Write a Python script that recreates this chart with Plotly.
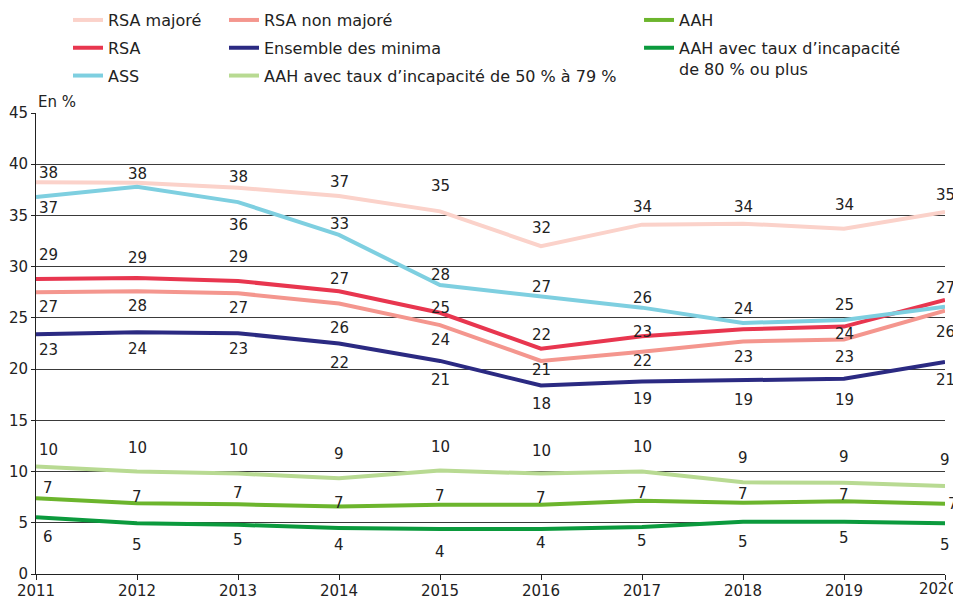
import plotly.graph_objects as go

years = [2011, 2012, 2013, 2014, 2015, 2016, 2017, 2018, 2019, 2020]
year_labels = ["2011", "2012", "2013", "2014", "2015", "2016", "2017", "2018", "2019", "2020"]

rsa_majore = [38.25, 38.2, 37.7, 36.9, 35.4, 32.0, 34.1, 34.2, 33.7, 35.35]
rsa_non_majore = [27.5, 27.6, 27.4, 26.4, 24.3, 20.8, 21.7, 22.7, 22.9, 25.7]
rsa = [28.8, 28.9, 28.6, 27.6, 25.5, 22.0, 23.2, 23.9, 24.15, 26.75]
ensemble = [23.4, 23.6, 23.5, 22.5, 20.8, 18.4, 18.8, 18.95, 19.05, 20.7]
ass = [36.8, 37.8, 36.3, 33.1, 28.2, 27.1, 26.0, 24.5, 24.8, 26.1]
aah_50_79 = [10.5, 10.0, 9.8, 9.35, 10.1, 9.8, 10.0, 8.95, 8.9, 8.6]
aah = [7.4, 6.9, 6.8, 6.6, 6.75, 6.75, 7.15, 6.95, 7.1, 6.85]
aah_80 = [5.55, 4.95, 4.8, 4.5, 4.4, 4.4, 4.6, 5.1, 5.1, 4.95]

# value labels as printed on the chart (None = not printed)
lab_rsa_majore = [38, 38, 38, 37, 35, 32, 34, 34, 34, 35]
lab_rsa_non_majore = [27, 28, 27, 26, 24, 21, 22, 23, 23, 26]
lab_rsa = [29, 29, 29, 27, 25, 22, 23, None, 24, 27]
lab_ensemble = [23, 24, 23, 22, 21, 18, 19, 19, 19, 21]
lab_ass = [37, None, 36, 33, 28, 27, 26, 24, 25, None]
lab_aah_50_79 = [10, 10, 10, 9, 10, 10, 10, 9, 9, 9]
lab_aah = [7, 7, 7, 7, 7, 7, 7, 7, 7, 7]
lab_aah_80 = [6, 5, 5, 4, 4, 4, 5, 5, 5, 5]

y_ticks = [0, 5, 10, 15, 20, 25, 30, 35, 40, 45]

FONT = "DejaVu Sans"
TXT = "#222222"
FS = 15

series = [
    # name, values, labels, color, legend, label yshifts (px)
    ("RSA majoré", rsa_majore, lab_rsa_majore, "#fbd2ca", "legend",
     [9, 9, 11, 14, 25, 18, 18, 17, 24, 17]),
    ("RSA", rsa, lab_rsa, "#e8364f", "legend",
     [24, 20, 24, 12, 5, 14, 4, 0, -7, 12]),
    ("ASS", ass, lab_ass, "#7ecfe0", "legend",
     [-11, 0, -23, 11, 10, 9, 10, 14, 15, 0]),
    ("RSA non majoré", rsa_non_majore, lab_rsa_non_majore, "#f4968e", "legend2",
     [-15, -15, -15, -24, -15, -9, -9, -16, -18, -21]),
    ("Ensemble des minima", ensemble, lab_ensemble, "#2b2a82", "legend2",
     [-16, -17, -16, -19, -19, -18, -18, -20, -21, -18]),
    ("AAH avec taux d\u2019incapacité de 50 % à 79 %", aah_50_79, lab_aah_50_79, "#b8da92", "legend2",
     [16, 24, 24, 24, 24, 23, 25, 24, 26, 26]),
    ("AAH", aah, lab_aah, "#6cb52d", "legend3",
     [10, 6, 11, 3, 9, 7, 8, 9, 6, 0]),
    ("AAH avec taux d\u2019incapacité<br>de 80 % ou plus", aah_80, lab_aah_80, "#0b9a3d", "legend3",
     [-20, -22, -15, -17, -23, -14, -14, -20, -16, -22]),
]

fig = go.Figure()
annotations = []
for name, vals, labs, color, leg, shifts in series:
    fig.add_trace(go.Scatter(
        x=years, y=vals, mode="lines", name=name,
        line=dict(color=color, width=4), legend=leg, legendgroup=name,
        hoverinfo="skip",
    ))
    for i, (yr, v, lb) in enumerate(zip(years, vals, labs)):
        if lb is None:
            continue
        xs = 0
        if i == 0:
            xs = 12
        if i == len(years) - 1 and name == "AAH":
            xs = 8
        annotations.append(dict(
            x=yr, y=v, text=str(lb), showarrow=False, xref="x", yref="y",
            yshift=shifts[i], xshift=xs,
            font=dict(family=FONT, size=FS, color=TXT),
        ))

annotations.append(dict(
    x=0, y=1, xref="paper", yref="paper", xanchor="left", yanchor="bottom",
    text="En %", showarrow=False, xshift=0, yshift=0,
    font=dict(family=FONT, size=FS, color=TXT),
))

# last year label: right-aligned at the end of the axis so it stays in the window
annotations.append(dict(
    x=years[-1], y=0, xref="x", yref="paper", xanchor="right", yanchor="top",
    text=year_labels[-1], showarrow=False, xshift=14, yshift=-4,
    font=dict(family=FONT, size=FS, color=TXT),
))

leg_common = dict(
    orientation="v", yanchor="top", xanchor="left", y=1.2385,
    font=dict(family=FONT, size=16, color=TXT), bgcolor="rgba(0,0,0,0)",
    tracegroupgap=4, valign="top", itemwidth=30,
)

tick_text = year_labels[:-1] + [""]

# the page body adds an 8px offset; margins compensate for it
fig.update_layout(
    width=961, height=599,
    margin=dict(l=28, r=24, t=105, b=33, autoexpand=False),
    paper_bgcolor="white", plot_bgcolor="white",
    font=dict(family=FONT, size=FS, color=TXT),
    showlegend=True,
    legend=dict(leg_common, x=0.0352),
    legend2=dict(leg_common, x=0.2068),
    legend3=dict(leg_common, x=0.6634),
    annotations=annotations,
    xaxis=dict(
        range=[2011, 2020], tickvals=years, ticktext=tick_text,
        showgrid=False, zeroline=False, showline=True, linecolor="#222",
        linewidth=1, ticks="outside", ticklen=5, tickcolor="#222",
        ticklabelstandoff=-2,
        tickfont=dict(family=FONT, size=FS, color=TXT), fixedrange=True,
        automargin=False,
    ),
    yaxis=dict(
        range=[0, 45], tickvals=y_ticks, showgrid=True, gridcolor="#3a3a3a",
        gridwidth=1, zeroline=False, showline=True, linecolor="#222",
        linewidth=1, ticks="outside", ticklen=4, tickcolor="#222",
        tickfont=dict(family=FONT, size=FS, color=TXT), fixedrange=True,
        automargin=False,
    ),
)

fig.write_html("out.html")
